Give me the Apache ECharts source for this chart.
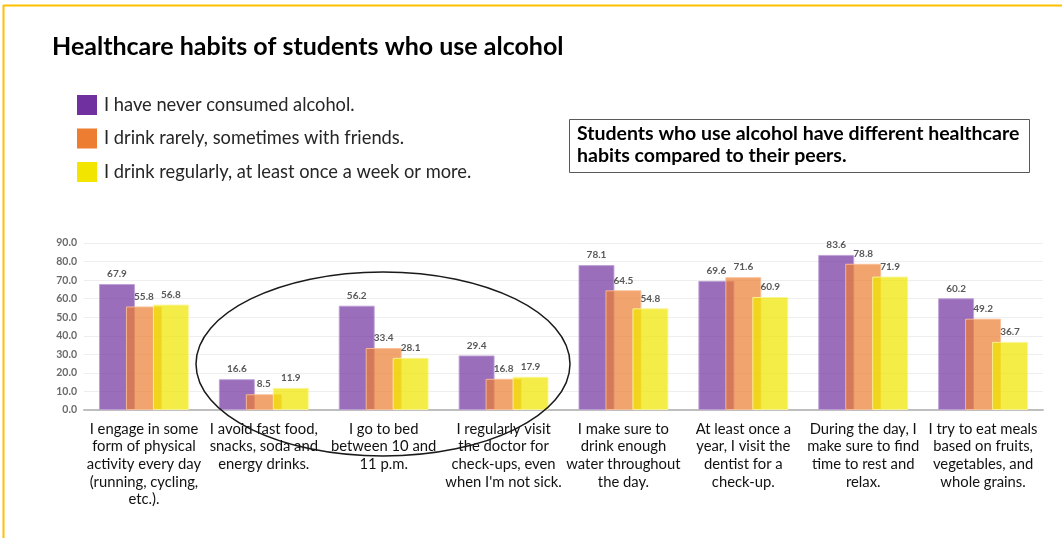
<!DOCTYPE html>
<html>
<head>
<meta charset="utf-8">
<style>
  html, body { margin: 0; padding: 0; background: #ffffff; }
  #chart { width: 1062px; height: 538px; }
</style>
<script src="https://cdn.jsdelivr.net/npm/echarts@6/dist/echarts.min.js"></script>
</head>
<body>
<div id="chart"></div>
<script>
// Survey statements (category axis)
const categories = [
  "I engage in some\nform of physical\nactivity every day\n(running, cycling,\netc.).",
  "I avoid fast food,\nsnacks, soda and\nenergy drinks.",
  "I go to bed\nbetween 10 and\n11 p.m.",
  "I regularly visit\nthe doctor for\ncheck-ups, even\nwhen I'm not sick.",
  "I make sure to\ndrink enough\nwater throughout\nthe day.",
  "At least once a\nyear, I visit the\ndentist for a\ncheck-up.",
  "During the day, I\nmake sure to find\ntime to rest and\nrelax.",
  "I try to eat meals\nbased on fruits,\nvegetables, and\nwhole grains."
];

const seriesNames = [
  "I have never consumed alcohol.",
  "I drink rarely, sometimes with friends.",
  "I drink regularly, at least once a week or more."
];

// Percentages per group
const neverValues   = [67.9, 16.6, 56.2, 29.4, 78.1, 69.6, 83.6, 60.2];
const rarelyValues  = [55.8,  8.5, 33.4, 16.8, 64.5, 71.6, 78.8, 49.2];
const regularValues = [56.8, 11.9, 28.1, 17.9, 54.8, 60.9, 71.9, 36.7];

const yTicks = [0, 10, 20, 30, 40, 50, 60, 70, 80, 90];

const title = "Healthcare habits of students who use alcohol";
const note = "Students who use alcohol have different healthcare\nhabits compared to their peers.";

const FONT = "Lato, 'Open Sans', sans-serif";
const solidColors = ["#7030A0", "#ED7D31", "#F2E600"];
const barColors = ["rgba(112,48,160,0.70)", "rgba(237,125,49,0.70)", "rgba(240,230,0,0.72)"];
const barBorders = ["rgba(190,160,215,0.9)", "rgba(250,190,150,0.9)", "rgba(250,245,150,0.9)"];

const allValues = [neverValues, rarelyValues, regularValues];

const chart = echarts.init(document.getElementById("chart"), null, { renderer: "canvas" });

const series = allValues.map((vals, i) => ({
  name: seriesNames[i],
  type: "bar",
  data: vals,
  barGap: "-25%",
  barCategoryGap: "25%",
  itemStyle: { color: barColors[i], borderColor: barBorders[i], borderWidth: 1 },
  label: {
    show: true,
    position: "top",
    distance: 5,
    formatter: p => p.value.toFixed(1),
    color: "#595959",
    fontSize: 10,
    fontWeight: "bold",
    fontFamily: FONT
  },
  emphasis: { disabled: true },
  z: 2 + i
}));

chart.setOption({
  animation: false,
  backgroundColor: "#ffffff",
  textStyle: { fontFamily: FONT },
  title: {
    text: title,
    left: 47,
    top: 29,
    textStyle: { fontFamily: FONT, fontSize: 25, fontWeight: "bold", color: "#000000" }
  },
  legend: {
    orient: "vertical",
    left: 72,
    top: 90,
    itemWidth: 20,
    itemHeight: 20,
    itemGap: 13.5,
    icon: "rect",
    selectedMode: false,
    textStyle: { fontFamily: FONT, fontSize: 18.3, color: "#262626", padding: [0, 0, 0, 2] },
    data: seriesNames.map((n, i) => ({ name: n, itemStyle: { color: solidColors[i], opacity: 1, borderWidth: 0 } }))
  },
  grid: { left: 84, right: 19, top: 243, bottom: 128, containLabel: false },
  xAxis: {
    type: "category",
    data: categories,
    axisLine: { show: true, lineStyle: { color: "#BFBFBF", width: 2 } },
    axisTick: { show: false },
    axisLabel: {
      interval: 0,
      margin: 10,
      fontFamily: FONT,
      fontSize: 14.8,
      lineHeight: 17.7,
      color: "#111111",
      align: "center",
      verticalAlign: "top"
    }
  },
  yAxis: {
    type: "value",
    min: yTicks[0],
    max: yTicks[yTicks.length - 1],
    interval: 10,
    axisLine: { show: false },
    axisTick: { show: false },
    splitLine: { lineStyle: { color: "#EEEEEE", width: 1 } },
    axisLabel: {
      margin: 7,
      formatter: v => v.toFixed(1),
      fontFamily: FONT,
      fontSize: 10.5,
      fontWeight: "bold",
      color: "#6B6B6B"
    }
  },
  series: series,
  graphic: [
    // frame lines
    { type: "line", shape: { x1: 3, y1: 5.5, x2: 1062, y2: 5.5 }, style: { stroke: "#FFC000", lineWidth: 2 }, z: 10 },
    { type: "line", shape: { x1: 3.5, y1: 5, x2: 3.5, y2: 538 }, style: { stroke: "#FFC000", lineWidth: 2 }, z: 10 },
    // note box
    {
      type: "rect",
      shape: { x: 569.5, y: 119.5, width: 460, height: 53 },
      style: { fill: "#ffffff", stroke: "#595959", lineWidth: 1 },
      z: 10
    },
    {
      type: "text",
      x: 577,
      y: 123,
      style: {
        text: note,
        fontFamily: FONT,
        fontSize: 19.5,
        fontWeight: "bold",
        lineHeight: 22,
        fill: "#000000"
      },
      z: 11
    },
    // highlight ring around the middle groups
    {
      type: "ellipse",
      shape: { cx: 383, cy: 364, rx: 187, ry: 92 },
      style: { fill: "none", stroke: "#1a1a1a", lineWidth: 1.5 },
      z: 20
    }
  ]
});
</script>
</body>
</html>
